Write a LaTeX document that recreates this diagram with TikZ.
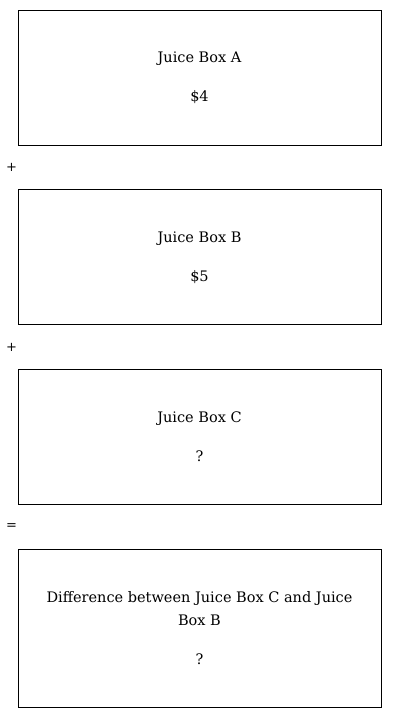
\documentclass[tikz,border=0pt]{standalone}
\usepackage{fontspec}
\setmainfont{DejaVu Serif}
\usetikzlibrary{positioning}
\tikzset{
  juice/.style={
    rectangle,
    draw=black, line width=0.8pt,
    minimum width=363pt,
    minimum height=135pt,
    inner sep=0pt,
    align=center,
    font=\fontsize{14.5}{23}\selectfont
  },
  sign/.style={
    inner sep=0pt,
    font=\fontsize{13}{15}\selectfont
  }
}

\begin{document}
\begin{tikzpicture}
\useasboundingbox (0,0) rectangle (400pt,-716pt);
% boxes
\node[juice] (boxA) at (199.5pt,-77.5pt)
  {Juice Box A\\[16pt]\$4};
\node[juice, below = 44pt of boxA] (boxB)
  {Juice Box B\\[16pt]\$5};
\node[juice, below = 44pt of boxB] (boxC)
  {Juice Box C\\[16pt]?};
\node[juice, below = 44pt of boxC, minimum height=158pt] (boxD)
  {Difference between Juice Box C and Juice\\Box B\\[16pt]?};

% signs
\path (boxA.south west) -- node[sign, xshift=-6pt] (plusA) {+} (boxB.north west);
\path (boxB.south west) -- node[sign, xshift=-6pt] (plusB) {+} (boxC.north west);
\path (boxC.south west) -- node[sign, xshift=-6pt] (equals) {=} (boxD.north west);
\end{tikzpicture}
\end{document}
